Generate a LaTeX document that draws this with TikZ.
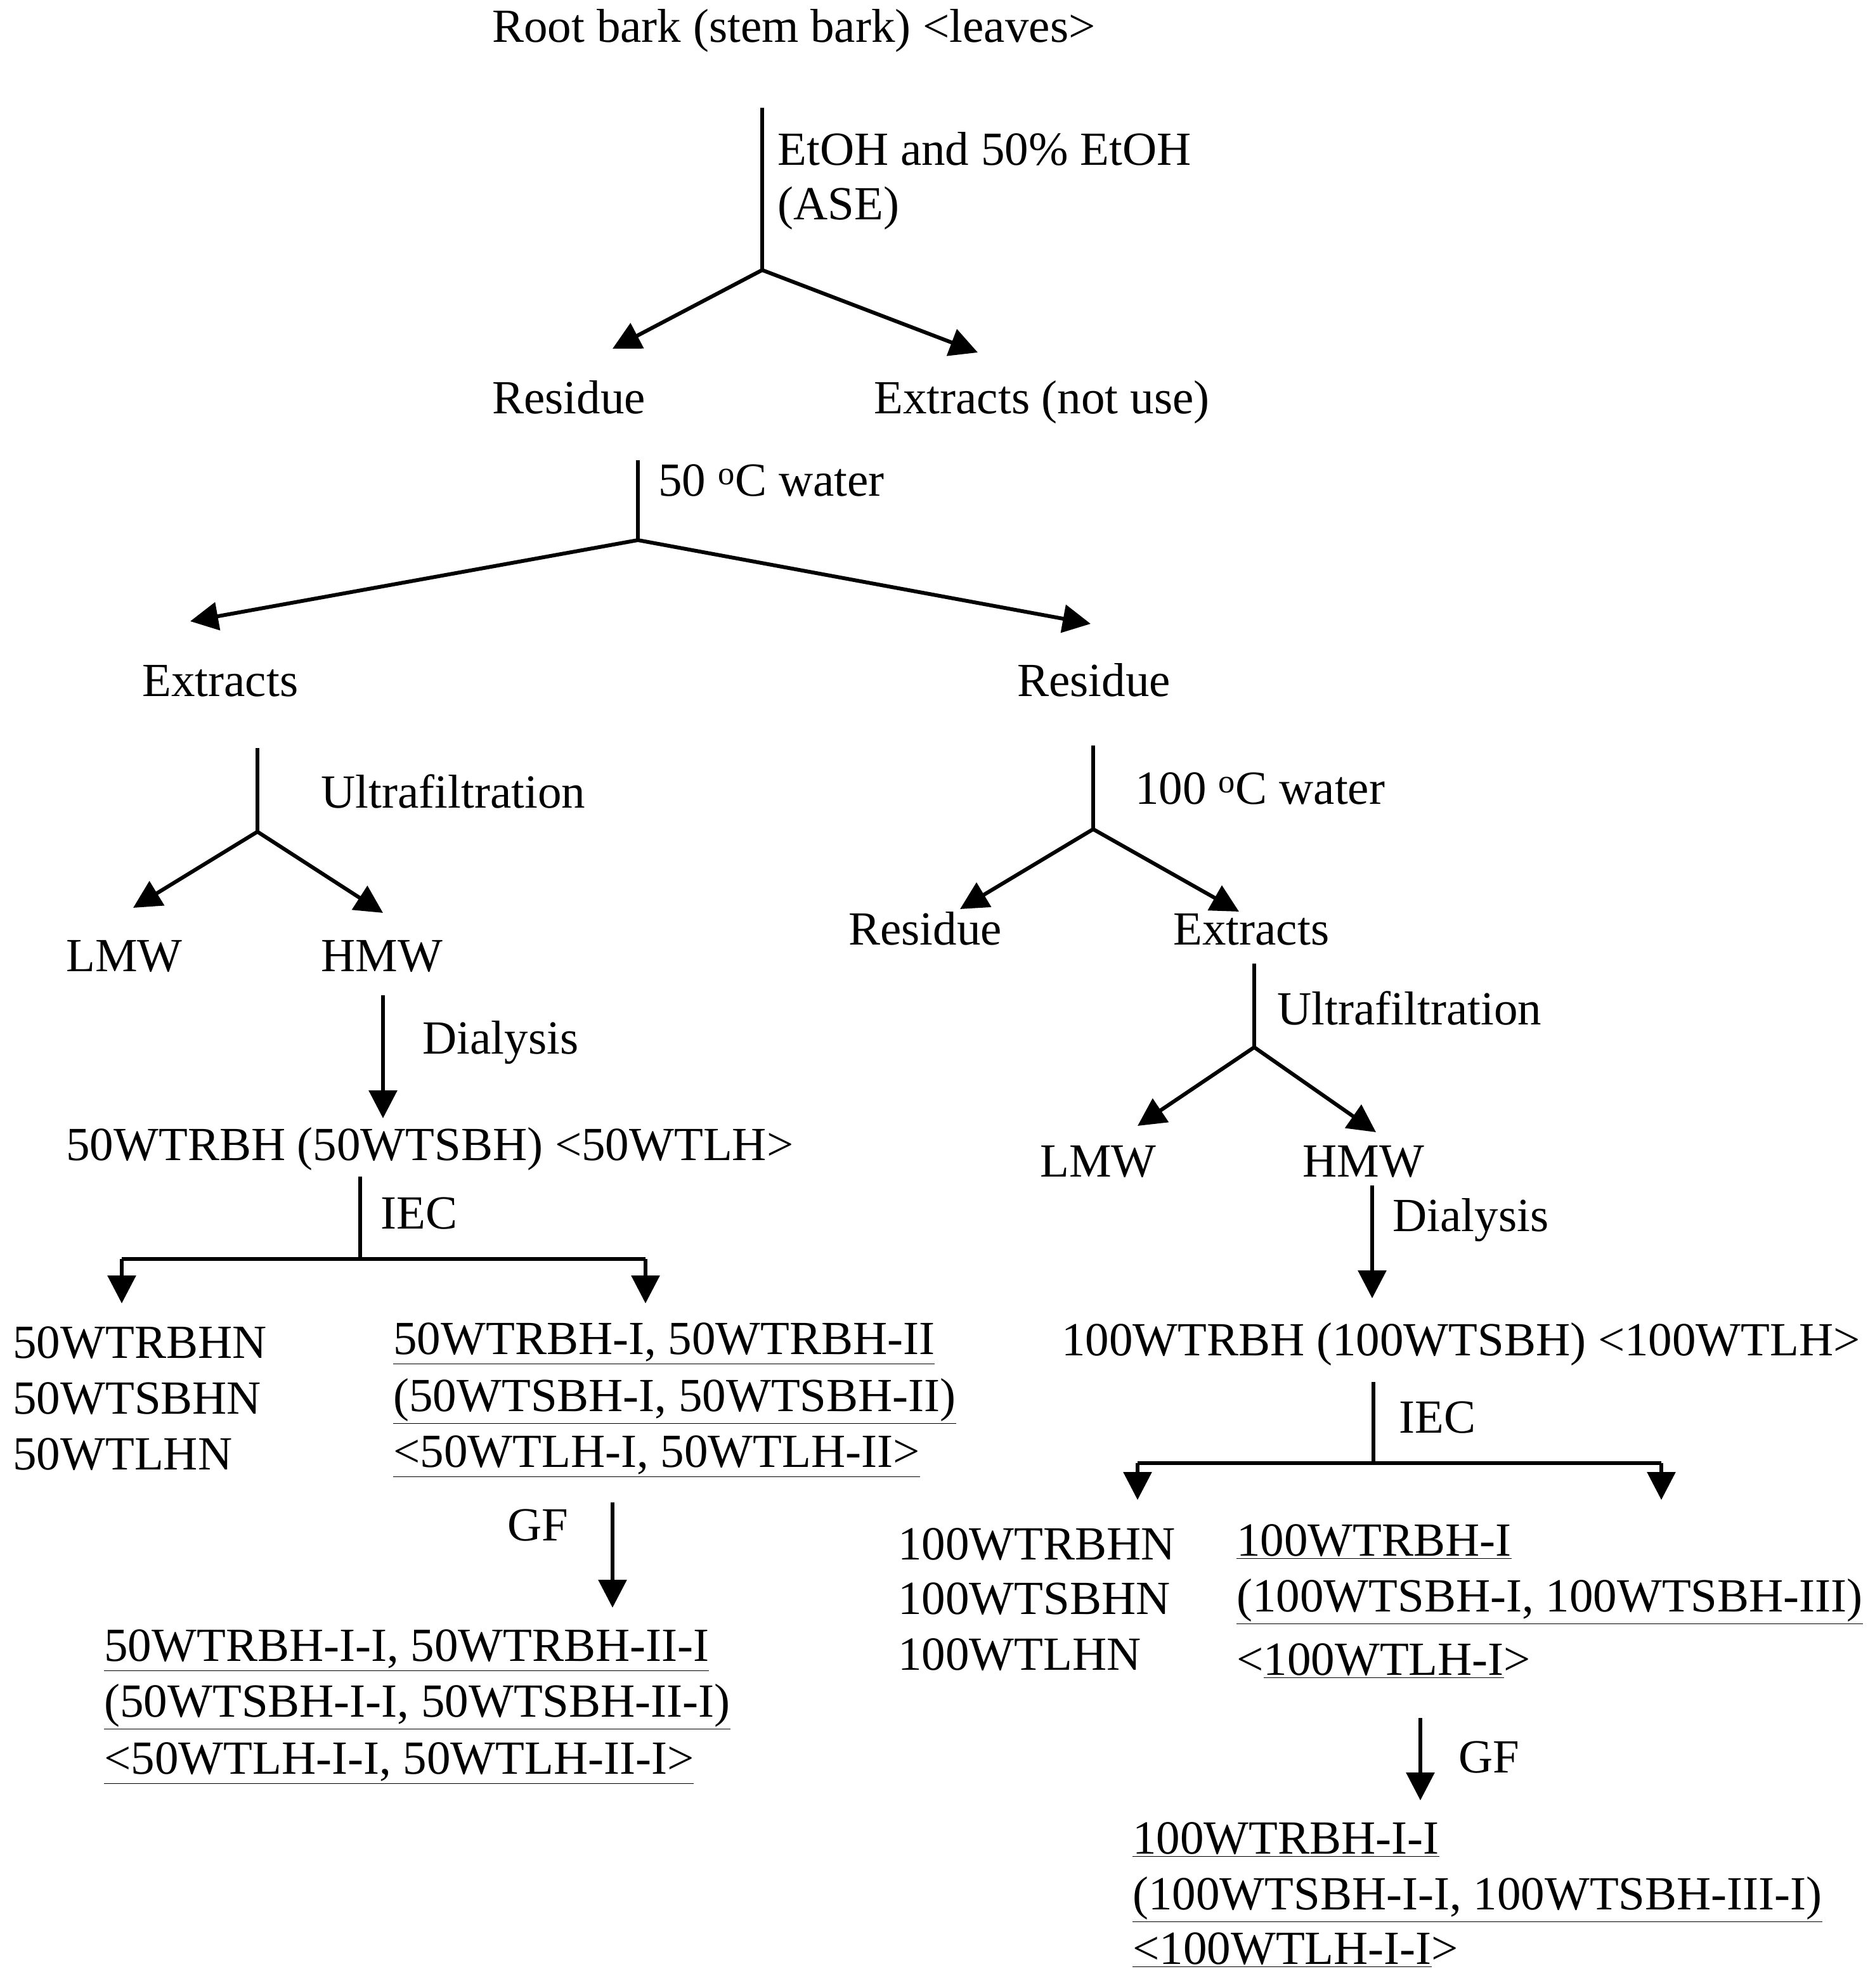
\documentclass[tikz,border=0pt]{standalone}
\usepackage{fontspec}
\setmainfont{Liberation Serif}
\usetikzlibrary{arrows.meta}
\newcommand{\ul}[1]{\underline{#1}}
\begin{document}
\begin{tikzpicture}[x=1pt,y=-1pt,
  t/.style={anchor=west,inner sep=0pt,yshift=-6pt,text height=0.7em,text depth=0.22em,font=\fontsize{37.5}{42}\selectfont},
  ln/.style={line width=3pt},
  ar/.style={line width=3pt,-{Triangle[length=22pt,width=22pt]}}]
\useasboundingbox[fill=white] (0,0) rectangle (1478,1568);
% top
\node[t] (root) at (388,25) {Root bark (stem bark) <leaves>};
\coordinate (a0) at (601,85); \coordinate (a1) at (601,213);
\draw[ln] (a0) -- (a1);
\node[t] (l1) at (613,122) {EtOH and 50\% EtOH};
\node[t] (l2) at (613,165) {(ASE)};
\coordinate (a2) at (483,275); \coordinate (a3) at (771,278);
\draw[ar] (a1) -- (a2); \draw[ar] (a1) -- (a3);
\node[t] (res1) at (388,318) {Residue};
\node[t] (ext0) at (689,318) {Extracts (not use)};
\coordinate (b0) at (503,363); \coordinate (b1) at (503,426);
\draw[ln] (b0) -- (b1);
\node[t] (l3) at (519,383) {50 \textsuperscript{o}C water};
\coordinate (b2) at (150,490); \coordinate (b3) at (860,492);
\draw[ar] (b1) -- (b2); \draw[ar] (b1) -- (b3);
\node[t] (extL) at (112,541) {Extracts};
\node[t] (resR) at (802,541) {Residue};
% left branch
\coordinate (c0) at (203,590); \coordinate (c1) at (203,656);
\draw[ln] (c0) -- (c1);
\node[t] (l4) at (253,629) {Ultrafiltration};
\coordinate (c2) at (105,716); \coordinate (c3) at (302,720);
\draw[ar] (c1) -- (c2); \draw[ar] (c1) -- (c3);
\node[t] (lmwL) at (52,758) {LMW};
\node[t] (hmwL) at (253,758) {HMW};
\coordinate (d0) at (302,785); \coordinate (d1) at (302,882);
\draw[ar] (d0) -- (d1);
\node[t] (l5) at (333,823) {Dialysis};
\node[t] (w50) at (52,907) {50WTRBH (50WTSBH) <50WTLH>};
\coordinate (e0) at (284,928); \coordinate (e1) at (284,993);
\coordinate (e2) at (96,993); \coordinate (e3) at (509,993);
\coordinate (e4) at (96,1028); \coordinate (e5) at (509,1028);
\draw[ln] (e0) -- (e1);
\draw[ln] (e2) -- (e3);
\draw[ar] (e2) -- (e4); \draw[ar] (e3) -- (e5);
\node[t] (l6) at (300,961) {IEC};
\node[t] (n1) at (10,1063) {50WTRBHN};
\node[t] (n2) at (10,1107) {50WTSBHN};
\node[t] (n3) at (10,1151) {50WTLHN};
\node[t] (u1) at (310,1060) {\ul{50WTRBH-I, 50WTRBH-II}};
\node[t] (u2) at (310,1105) {\ul{(50WTSBH-I, 50WTSBH-II)}};
\node[t] (u3) at (310,1149) {\ul{<50WTLH-I, 50WTLH-II>}};
\coordinate (f0) at (483,1185); \coordinate (f1) at (483,1268);
\draw[ar] (f0) -- (f1);
\node[t] (l7) at (400,1207) {GF};
\node[t] (g1) at (82,1302) {\ul{50WTRBH-I-I, 50WTRBH-II-I}};
\node[t] (g2) at (82,1346) {\ul{(50WTSBH-I-I, 50WTSBH-II-I)}};
\node[t] (g3) at (82,1391) {\ul{<50WTLH-I-I, 50WTLH-II-I>}};
% right branch
\coordinate (h0) at (862,588); \coordinate (h1) at (862,654);
\draw[ln] (h0) -- (h1);
\node[t] (l8) at (895,626) {100 \textsuperscript{o}C water};
\coordinate (h2) at (757,717); \coordinate (h3) at (977,719);
\draw[ar] (h1) -- (h2); \draw[ar] (h1) -- (h3);
\node[t] (resR2) at (669,737) {Residue};
\node[t] (extR) at (925,737) {Extracts};
\coordinate (i0) at (989,760); \coordinate (i1) at (989,826);
\draw[ln] (i0) -- (i1);
\node[t] (l9) at (1007,800) {Ultrafiltration};
\coordinate (i2) at (897,888); \coordinate (i3) at (1085,893);
\draw[ar] (i1) -- (i2); \draw[ar] (i1) -- (i3);
\node[t] (lmwR) at (820,920) {LMW};
\node[t] (hmwR) at (1027,920) {HMW};
\coordinate (j0) at (1082,935); \coordinate (j1) at (1082,1024);
\draw[ar] (j0) -- (j1);
\node[t] (l10) at (1098,963) {Dialysis};
\node[t] (w100) at (837,1061) {100WTRBH (100WTSBH) <100WTLH>};
\coordinate (k0) at (1083,1090); \coordinate (k1) at (1083,1154);
\coordinate (k2) at (897,1154); \coordinate (k3) at (1310,1154);
\coordinate (k4) at (897,1183); \coordinate (k5) at (1310,1183);
\draw[ln] (k0) -- (k1);
\draw[ln] (k2) -- (k3);
\draw[ar] (k2) -- (k4); \draw[ar] (k3) -- (k5);
\node[t] (l11) at (1103,1122) {IEC};
\node[t] (m1) at (708,1222) {100WTRBHN};
\node[t] (m2) at (708,1265) {100WTSBHN};
\node[t] (m3) at (708,1309) {100WTLHN};
\node[t] (v1) at (975,1219) {\ul{100WTRBH-I}};
\node[t] (v2) at (975,1263) {\ul{(100WTSBH-I, 100WTSBH-III)}};
\node[t] (v3) at (975,1313) {<\ul{100WTLH-I}>};
\coordinate (o0) at (1120,1355); \coordinate (o1) at (1120,1420);
\draw[ar] (o0) -- (o1);
\node[t] (l12) at (1150,1390) {GF};
\node[t] (p1) at (893,1454) {\ul{100WTRBH-I-I}};
\node[t] (p2) at (893,1498) {\ul{(100WTSBH-I-I, 100WTSBH-III-I)}};
\node[t] (p3) at (893,1541) {\ul{<100WTLH-I-I}>};
\end{tikzpicture}
\end{document}
